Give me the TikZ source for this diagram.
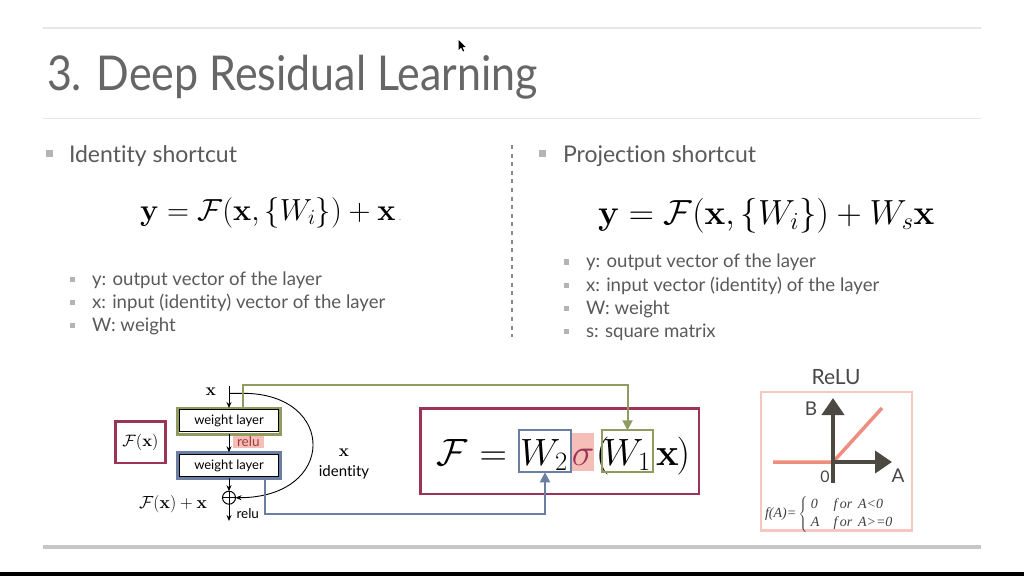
\RequirePackage{fix-cm}
\documentclass[tikz,border=0pt]{standalone}
\usepackage[no-math]{fontspec}
\setmainfont{Lato}[Ligatures=NoCommon]
\newfontfamily\timesit{Liberation Serif}
\usetikzlibrary{arrows.meta}
\definecolor{txtgray}{HTML}{5A5A5A}
\definecolor{titlegray}{HTML}{666666}
\definecolor{rulegray}{HTML}{E6E6E6}
\definecolor{bargray}{HTML}{C6C6C6}
\definecolor{bulgray}{HTML}{B4B4B4}
\definecolor{dashgray}{HTML}{8A8A8A}
\definecolor{olivec}{HTML}{8F9B5F}
\definecolor{bluec}{HTML}{6A7FA3}
\definecolor{crimsonc}{HTML}{9C3457}
\definecolor{pinkbg}{HTML}{F5BEB6}
\definecolor{relutxt}{HTML}{A23A45}
\definecolor{redline}{HTML}{EF8E7E}
\definecolor{axisc}{HTML}{4B4942}
\definecolor{reluframe}{HTML}{F5C7BF}
\tikzset{
 base/.style={inner sep=0pt, outer sep=0pt},
 bigbul/.style={base, fill=bulgray, minimum size=7pt},
 smallbul/.style={base, fill=bulgray, minimum size=5.5pt},
 head/.style={base, anchor=base west, text=txtgray, font=\fontsize{23}{27}\selectfont},
 sub/.style={base, anchor=base west, text=txtgray, font=\fontsize{18.6}{22}\selectfont},
 wl/.style={base, draw=black, line width=1.2pt, fill=white, minimum width=98.5pt, minimum height=22pt, font=\fontsize{13}{15}\selectfont},
 wlframe/.style={base, line width=3pt, minimum width=103pt, minimum height=26pt},
 arr/.style={-{Stealth[length=6pt,width=5pt]}, line width=0.9pt},
 conn/.style={line width=2pt, -{Triangle[length=10pt,width=10pt]}},
 fbox/.style={base, line width=2pt, minimum width=51.4pt, minimum height=42pt},
 big/.style={base, anchor=base west, font=\fontsize{38}{44}\selectfont},
 axis/.style={line width=4pt, axisc, -{Triangle[length=17pt,width=22pt]}},
 lbl/.style={base, anchor=base, text=txtgray!80!black},
}
\begin{document}
\begin{tikzpicture}[x=1pt,y=-1pt]
\useasboundingbox[fill=white] (0,0) rectangle (1024,576);
% rules and bars
\draw[rulegray, line width=2pt] (43,28) -- (981,28);
\draw[rulegray, line width=1.5pt] (43,118.5) -- (981,118.5);
\draw[bargray, line width=4.5pt] (43,547) -- (981,547);
\fill[black] (0,572) rectangle (1024,576);
% cursor
\fill[black] (458.5,40) -- (458.5,50) -- (461,47.5) -- (463,51.5) -- (464.2,50.8) -- (462.3,47) -- (465.5,47) -- cycle;
% title
\node[base, anchor=base west, text=titlegray, font=\fontsize{48}{56}\selectfont] (title) at (47,90) {\scalebox{0.895}[1]{3. Deep Residual Learning}};
% left column
\node[bigbul] (lb) at (49.5,153.7) {};
\node[head] (lh) at (69,162) {Identity shortcut};
\node[base, anchor=base west, font=\fontsize{30.5}{36}\selectfont] (leq) at (140,220) {$\mathbf{y} = \mathcal{F}(\mathbf{x}, \{W_i\}) + \mathbf{x}$};
\node[base, anchor=base west, text=txtgray, font=\fontsize{8}{9}\selectfont] (ldot) at (399,220) {.};
\node[smallbul] (ls1) at (72.5,279.5) {};
\node[sub] (lt1) at (92,285) {y: output vector of the layer};
\node[smallbul] (ls2) at (72.5,302.5) {};
\node[sub] (lt2) at (92,308) {x: input (identity) vector of the layer};
\node[smallbul] (ls3) at (72.5,325.5) {};
\node[sub] (lt3) at (92,331) {W: weight};
% divider
\draw[dashgray, line width=2.2pt, dash pattern=on 4pt off 4.6pt] (511.7,145) -- (511.7,337);
% right column
\node[bigbul] (rb) at (542.5,153.7) {};
\node[head] (rh) at (563,162) {Projection shortcut};
\node[base, anchor=base west, font=\fontsize{34.9}{40}\selectfont] (req) at (598,224) {$\mathbf{y} = \mathcal{F}(\mathbf{x}, \{W_i\}) + W_s\mathbf{x}$};
\node[smallbul] (rs1) at (566.5,262) {};
\node[sub] (rt1) at (586,267.5) {y: output vector of the layer};
\node[smallbul] (rs2) at (566.5,285.5) {};
\node[sub] (rt2) at (586,291) {x: input vector (identity) of the layer};
\node[smallbul] (rs3) at (566.5,308.5) {};
\node[sub] (rt3) at (586,314) {W: weight};
\node[smallbul] (rs4) at (566.5,331.5) {};
\node[sub] (rt4) at (586,337) {s: square matrix};
% residual block
\node[base, anchor=base, font=\fontsize{17}{20}\selectfont] (xin) at (211,395) {$\mathbf{x}$};
\coordinate (top) at (229,386);
\coordinate (split) at (229,393.3);
\node[wlframe, draw=olivec] (f1) at (229,421) {};
\node[wl] (wl1) at (229,420.7) {weight layer};
\node[wlframe, draw=bluec] (f2) at (229,465.3) {};
\node[wl] (wl2) at (229,465.8) {weight layer};
\node[base, fill=pinkbg, text=relutxt, minimum width=31pt, minimum height=12.6pt, font=\fontsize{13.5}{15}\selectfont] (r1) at (248.3,442) {relu};
\node[base, circle, draw, line width=1pt, minimum size=13pt] (plus) at (229,497.7) {};
\draw[line width=1pt] (plus.north) -- (plus.south) (plus.west) -- (plus.east);
\coordinate (outp) at (229,521);
\node[base, anchor=base west, font=\fontsize{13.5}{15}\selectfont] (r2) at (236.5,518) {relu};
\node[base, anchor=base east, font=\fontsize{17.5}{20}\selectfont] (fxx) at (207,508) {$\mathcal{F}(\mathbf{x})+\mathbf{x}$};
\draw[arr] (top) -- (f1.north);
\draw[arr] (f1.south) -- (f2.north);
\draw[arr] (f2.south) -- (plus.north);
\draw[arr] (plus.south) -- (outp);
\draw[arr] (split) -- (243,393.3) .. controls (337,393.3) and (337,497.7) .. (plus.east);
\node[base, draw=crimsonc, line width=2.5pt, minimum width=50.3pt, minimum height=41.8pt, font=\fontsize{16.5}{19}\selectfont] (fx) at (140.4,442.2) {$\mathcal{F}(\mathbf{x})$};
\node[base, anchor=base, font=\fontsize{17}{20}\selectfont] (idx) at (344,456.7) {$\mathbf{x}$};
\node[base, anchor=base, font=\fontsize{15}{18}\selectfont] (idt) at (344,476.7) {identity};
% formula box
\node[base, draw=crimsonc, line width=2.5pt, minimum width=278.3pt, minimum height=85.3pt] (bigbox) at (559.65,451.15) {};
\node[big] (fF) at (436,465) {$\mathcal{F}$};
\node[big, anchor=base] (feq) at (493.3,465) {$=$};
\node[fbox, draw=bluec] (w2) at (545,451.3) {};
\node[big] (w2t) at (520,465) {$W_2$};
\node[base, fill=pinkbg, minimum width=22.6pt, minimum height=37.7pt] (sg) at (583,452.2) {};
\node[big, anchor=base, text=crimsonc] (sgt) at (583,465) {$\sigma$};
\node[big] (lp) at (596,465) {$($};
\node[fbox, draw=olivec] (w1) at (627.5,451.3) {};
\node[big] (w1t) at (603,465) {$W_1$};
\node[big] (fx2) at (656,465) {$\mathbf{x}$};
\node[big, anchor=base east] (rp) at (690,465) {$)$};
\coordinate (ostart) at (242.7,408);
\draw[conn, olivec] (ostart) -- (242.7,385) -| (w1.north);
\coordinate (bstart) at (265,479);
\draw[conn, bluec] (bstart) -- (265,514) -| (w2.south);
% ReLU panel
\node[lbl, font=\fontsize{21}{24}\selectfont] (relut) at (836,384) {ReLU};
\node[base, draw=reluframe, line width=2.5pt, minimum width=150.6pt, minimum height=138.3pt] (reluframe) at (836.5,461.35) {};
\coordinate (org) at (833,462);
\coordinate (vbot) at (833,483);
\coordinate (vtop) at (833,398);
\coordinate (hend) at (892,462);
\coordinate (rstart) at (773,462);
\coordinate (rend) at (882,408);
\draw[redline, line width=3.5pt] (rstart) -- (org) -- (rend);
\draw[axis] (vbot) -- (vtop);
\draw[axis] (org) -- (hend);
\node[lbl, font=\fontsize{19}{22}\selectfont] (lbB) at (811,415) {B};
\node[lbl, font=\fontsize{16}{19}\selectfont] (lb0) at (825,482) {0};
\node[lbl, font=\fontsize{19}{22}\selectfont] (lbA) at (898,482) {A};
\node[base, anchor=west, text=txtgray!70!black, font=\timesit\itshape\fontsize{14}{18}\selectfont] (fa) at (765,514) {f(A)=\,$\left\{\rule[-14pt]{0pt}{32pt}\right.$\,\begin{tabular}[c]{@{}l@{\hspace{14pt}}l@{}}0 & f\,or\, A<0\\ A & f\,or\, A>=0\end{tabular}};
\end{tikzpicture}
\end{document}
